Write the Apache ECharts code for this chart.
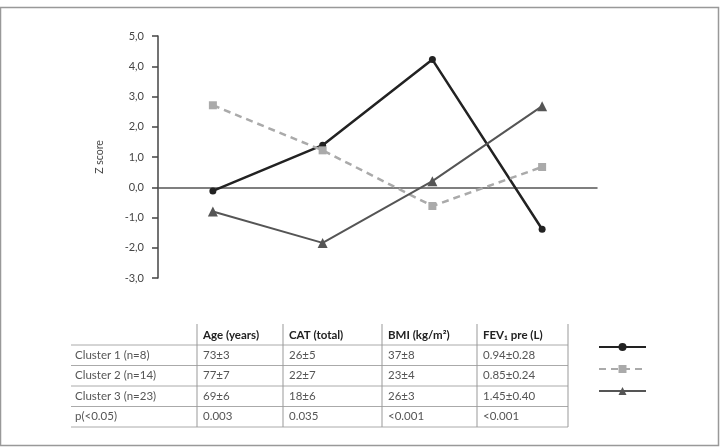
<!DOCTYPE html>
<html>
<head>
<meta charset="utf-8">
<script src="https://cdn.jsdelivr.net/npm/echarts@6/dist/echarts.min.js"></script>
<style>
  html, body { margin: 0; padding: 0; background: #fff; }
  #chart { width: 720px; height: 447px; }
</style>
</head>
<body>
<div id="chart"></div>
<script>
// データ
const variables = ['Age (years)', 'CAT (total)', 'BMI (kg/m²)', 'FEV₁ pre (L)'];
const cluster1 = [-0.12, 1.39, 4.22, -1.39];
const cluster2 = [2.71, 1.22, -0.62, 0.67];
const cluster3 = [-0.8, -1.84, 0.2, 2.68];
const seriesNames = ['Cluster 1', 'Cluster 2', 'Cluster 3'];

// 表
const rowLabels = ['Cluster 1 (n=8)', 'Cluster 2 (n=14)', 'Cluster 3 (n=23)', 'p(<0.05)'];
const tableCells = [
    ['73±3', '26±5', '37±8', '0.94±0.28'],
    ['77±7', '22±7', '23±4', '0.85±0.24'],
    ['69±6', '18±6', '26±3', '1.45±0.40'],
    ['0.003', '0.035', '<0.001', '<0.001']
];

const FONT = 'Lato, "Open Sans", sans-serif';

// 表のレイアウト
const colX = [71, 197, 283, 382, 477, 568];
const lineY = [345, 365.5, 386, 406.5, 427];
const tableTop = 324;

function buildTable() {
    const els = [];
    // 枠線
    els.push({
        type: 'rect',
        shape: { x: 0.5, y: 7.5, width: 718, height: 438 },
        style: { fill: 'none', stroke: '#999', lineWidth: 1.5 }
    });
    lineY.forEach(y => {
        els.push({
            type: 'line',
            shape: { x1: colX[0], y1: y, x2: colX[5], y2: y },
            style: { stroke: '#aaa', lineWidth: 1 }
        });
    });
    colX.slice(1).forEach(x => {
        els.push({
            type: 'line',
            shape: { x1: x, y1: tableTop, x2: x, y2: lineY[4] },
            style: { stroke: '#999', lineWidth: 1 }
        });
    });
    // ヘッダー
    variables.forEach((h, i) => {
        els.push({
            type: 'text',
            style: {
                text: h, x: colX[i + 1] + 6, y: (tableTop + lineY[0]) / 2 + 1,
                font: 'bold 11.5px ' + FONT, fill: '#222', verticalAlign: 'middle'
            }
        });
    });
    rowLabels.forEach((lab, r) => {
        const cy = (lineY[r] + lineY[r + 1]) / 2;
        els.push({
            type: 'text',
            style: {
                text: lab, x: colX[0] + 4, y: cy,
                font: '11.5px ' + FONT, fill: '#555', verticalAlign: 'middle'
            }
        });
        tableCells[r].forEach((c, i) => {
            els.push({
                type: 'text',
                style: {
                    text: c, x: colX[i + 1] + 6, y: cy,
                    font: '11.5px ' + FONT, fill: '#555', verticalAlign: 'middle'
                }
            });
        });
    });
    return els;
}

const chart = echarts.init(document.getElementById('chart'));

chart.setOption({
    animation: false,
    textStyle: { fontFamily: FONT },
    grid: { left: 158, right: 123, top: 36, bottom: 169 },
    legend: {
        orient: 'vertical',
        left: 593,
        top: 337,
        itemWidth: 47,
        itemHeight: 10,
        itemGap: 13,
        formatter: () => '',
        data: seriesNames
    },
    xAxis: {
        type: 'category',
        data: variables,
        boundaryGap: true,
        axisLine: { onZero: true, lineStyle: { color: '#555', width: 1.5 } },
        axisTick: { show: false },
        axisLabel: { show: false }
    },
    yAxis: {
        type: 'value',
        min: -3,
        max: 5,
        interval: 1,
        name: 'Z score',
        nameLocation: 'middle',
        nameGap: 53,
        nameTextStyle: { fontSize: 10.5, color: '#444' },
        splitLine: { show: false },
        axisLine: { show: true, lineStyle: { color: '#444', width: 1.5 } },
        axisTick: { show: true, length: 6, lineStyle: { color: '#444', width: 1.5 } },
        axisLabel: {
            fontSize: 11, color: '#444', margin: 14,
            formatter: v => v.toFixed(1).replace('.', ',')
        }
    },
    series: [
        {
            name: seriesNames[0], type: 'line', data: cluster1,
            symbol: 'circle', symbolSize: 7,
            lineStyle: { color: '#222', width: 2.5 },
            itemStyle: { color: '#222' }
        },
        {
            name: seriesNames[1], type: 'line', data: cluster2,
            symbol: 'rect', symbolSize: 8,
            lineStyle: { color: '#aaa', width: 2.5, type: [7, 5] },
            itemStyle: { color: '#aaa' }
        },
        {
            name: seriesNames[2], type: 'line', data: cluster3,
            symbol: 'triangle', symbolSize: 10,
            lineStyle: { color: '#555', width: 2 },
            itemStyle: { color: '#555' }
        }
    ],
    graphic: buildTable()
});
</script>
</body>
</html>
